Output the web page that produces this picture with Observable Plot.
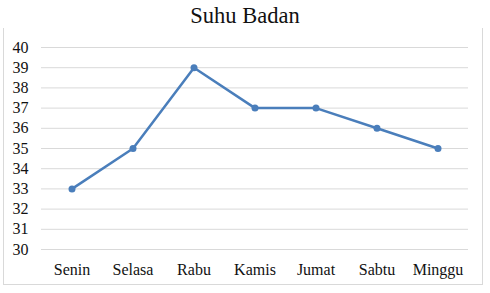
<!DOCTYPE html>
<html>
<head>
<meta charset="utf-8">
<script src="https://cdn.jsdelivr.net/npm/d3@7"></script>
<script src="https://cdn.jsdelivr.net/npm/@observablehq/plot@0.6"></script>
<style>
  html, body { margin: 0; padding: 0; background: #fff; }
  #wrap { position: relative; width: 490px; height: 293px; overflow: hidden; }
  #border { position: absolute; left: 3px; top: 28px; width: 478px; height: 256px;
            border-left: 1px solid #d9d9d9; border-right: 1px solid #d9d9d9; border-bottom: 1px solid #d9d9d9; }
  #title { position: absolute; left: 0; top: 3px; width: 490px; text-align: center;
           font-family: "Liberation Serif", "DejaVu Serif", serif; font-size: 22.5px; color: #111; }
  #chart { position: absolute; left: 0; top: 0; }
  #chart svg, #chart svg text { font-family: "Liberation Serif", "DejaVu Serif", serif !important; }
</style>
</head>
<body>
<div id="wrap">
  <div id="border"></div>
  <div id="title">Suhu Badan</div>
  <div id="chart"></div>
</div>
<script>
const days = ["Senin", "Selasa", "Rabu", "Kamis", "Jumat", "Sabtu", "Minggu"];
const temps = [33, 35, 39, 37, 37, 36, 35];
const yTicks = [30, 31, 32, 33, 34, 35, 36, 37, 38, 39, 40];

const data = days.map((d, i) => ({day: d, temp: temps[i]}));

const chart = Plot.plot({
  width: 490,
  height: 293,
  marginTop: 47,
  marginBottom: 44,
  marginLeft: 41,
  marginRight: 22,
  style: {fontFamily: "Liberation Serif, serif", fontSize: "16px", color: "#111", background: "transparent", overflow: "visible"},
  x: {type: "band", domain: days, padding: 0, label: null, tickSize: 0, tickPadding: 14},
  y: {domain: [30, 40], ticks: yTicks, label: null, tickSize: 0, tickPadding: 13, tickFormat: d => String(d)},
  marks: [
    Plot.ruleY(yTicks, {stroke: "#d9d9d9", strokeWidth: 1}),
    Plot.line(data, {x: "day", y: "temp", stroke: "#4a7ebb", strokeWidth: 2.5}),
    Plot.dot(data, {x: "day", y: "temp", fill: "#4a7ebb", r: 3.5})
  ]
});
document.getElementById("chart").appendChild(chart);
</script>
</body>
</html>
